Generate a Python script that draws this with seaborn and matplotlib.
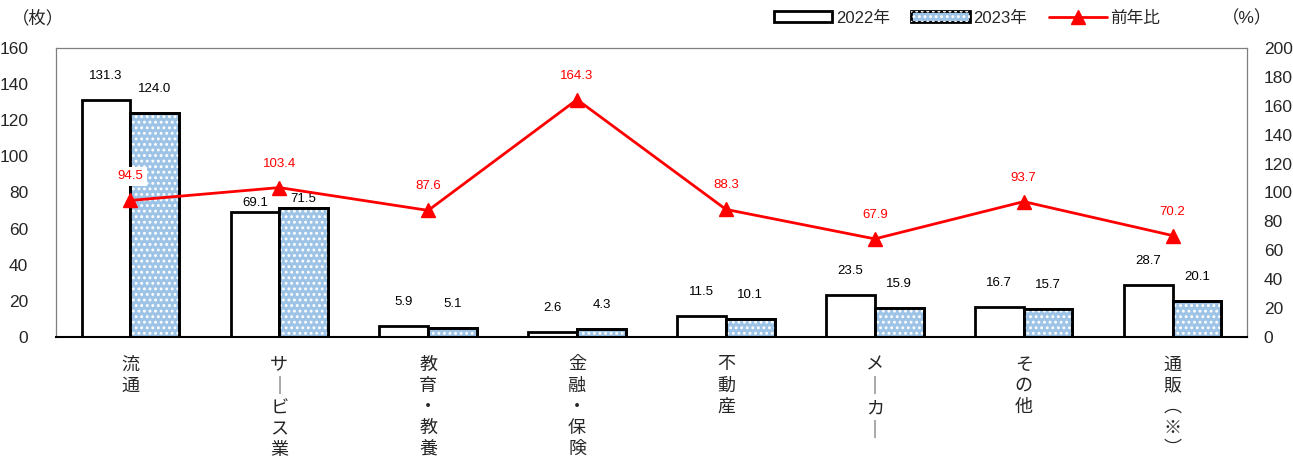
import numpy as np
import pandas as pd
import matplotlib
matplotlib.use("Agg")
import matplotlib.pyplot as plt
from matplotlib.patches import Patch, Rectangle
from matplotlib.lines import Line2D
from matplotlib.legend_handler import HandlerTuple
import seaborn as sns

categories = ["流通", "サービス業", "教育・教養", "金融・保険", "不動産", "メーカー", "その他", "通販(※)"]
tick_labels = ["流\n通", "サ\n｜\nビ\nス\n業", "教\n育\n・\n教\n養", "金\n融\n・\n保\n険",
               "不\n動\n産", "メ\n｜\nカ\n｜", "そ\nの\n他", "通\n販\n︵\n※\n︶"]
v2022 = [131.3, 69.1, 5.9, 2.6, 11.5, 23.5, 16.7, 28.7]
v2023 = [124.0, 71.5, 5.1, 4.3, 10.1, 15.9, 15.7, 20.1]
ratio = [94.5, 103.4, 87.6, 164.3, 88.3, 67.9, 93.7, 70.2]
years = ["2022年", "2023年"]

sns.set_theme(style="white")
plt.rcParams["font.family"] = ["Liberation Sans", "Noto Sans CJK JP", "DejaVu Sans"]
plt.rcParams["hatch.linewidth"] = 1.3

BLUE = "#9DC3E6"
df = pd.DataFrame({
    "cat": categories * 2,
    "year": [years[0]] * 8 + [years[1]] * 8,
    "val": v2022 + v2023,
})

fig = plt.figure(figsize=(12.93, 4.66), dpi=100)
ax = fig.add_axes([56 / 1293, 1 - 337 / 466, (1247 - 56) / 1293, (337 - 48) / 466])

sns.barplot(data=df, x="cat", y="val", hue="year", order=categories, hue_order=years,
            palette={years[0]: "white", years[1]: BLUE}, width=0.655, gap=0,
            edgecolor="black", linewidth=2, legend=False, ax=ax, saturation=1)

# hatch overlay for 2023 bars
n = len(categories)
bars = ax.patches
for i, p in enumerate(bars[n:2 * n]):
    ov = Rectangle((p.get_x(), p.get_y()), p.get_width(), p.get_height(), fill=False,
                   hatch="...", edgecolor="white", lw=0, zorder=p.get_zorder() + 0.1)
    ax.add_patch(ov)
    ax.add_patch(Rectangle((p.get_x(), p.get_y()), p.get_width(), p.get_height(), fill=False,
                           edgecolor="black", lw=2, zorder=p.get_zorder() + 0.2))

# label offset (pixels) per category; the サービス業 labels sit closer to the bars
label_gap = [18, 3, 18, 18, 18, 18, 18, 18]
for k, (p, v) in enumerate(zip(bars[:2 * n], v2022 + v2023)):
    ax.annotate(f"{v:.1f}", (p.get_x() + p.get_width() / 2, p.get_height()),
                xytext=(0, label_gap[k % n]), textcoords="offset pixels", ha="center", va="bottom",
                fontsize=9.5, color="black")

ax.set_xlim(-0.5, n - 0.5)
ax.set_ylim(0, 160)
ax.set_yticks(np.arange(0, 161, 20))
ax.set_xlabel("")
ax.set_ylabel("")
ax.set_xticks(range(n))
ax.set_xticklabels(tick_labels, fontsize=13, linespacing=1.32, va="top")
ax.tick_params(axis="x", length=0, pad=14)
ax.tick_params(axis="y", length=0, pad=20, labelsize=12.5)
for s in ["top", "left", "right"]:
    ax.spines[s].set_color("#7f7f7f")
    ax.spines[s].set_linewidth(0.9)
ax.spines["bottom"].set_color("black")
ax.spines["bottom"].set_linewidth(1.5)

ax2 = ax.twinx()
ax2.plot(range(n), ratio, color="#FF0000", lw=2, marker="^", markersize=10, zorder=5)
ax2.set_ylim(0, 200)
ax2.set_yticks(np.arange(0, 201, 20))
ax2.tick_params(axis="y", length=0, pad=12, labelsize=12.5)
for s in ax2.spines.values():
    s.set_visible(False)
ax2.grid(False)
for i, r in enumerate(ratio):
    ax2.annotate(f"{r:.1f}", (i, r), xytext=(0, 18), textcoords="offset pixels",
                 ha="center", va="bottom", fontsize=9.5, color="#FF0000",
                 bbox=dict(boxstyle="square,pad=0.25", fc="white", ec="none"))

fig.text(12 / 1293, 1 - 18 / 466, "（枚）", fontsize=12.5, ha="left", va="center")
fig.text(1222 / 1293, 1 - 18 / 466, "（%）", fontsize=12.5, ha="left", va="center")

h1 = Patch(facecolor="white", edgecolor="black", lw=2)
h2a = Patch(facecolor=BLUE, edgecolor="black", lw=2)
h2b = Patch(fill=False, hatch="...", edgecolor="white", lw=0)
h3 = Line2D([], [], color="#FF0000", lw=2, marker="^", markersize=10)
fig.legend([h1, (h2a, h2b), h3], ["2022年", "2023年", "前年比"],
           handler_map={tuple: HandlerTuple(ndivide=1)},
           loc="center left", bbox_to_anchor=(774 / 1293, 1 - 18 / 466), ncol=3,
           frameon=False, fontsize=12, handlelength=3.5, handleheight=0.6,
           columnspacing=1.3, handletextpad=0.2, borderaxespad=0, borderpad=0)

fig.savefig("out.png", dpi=100)
